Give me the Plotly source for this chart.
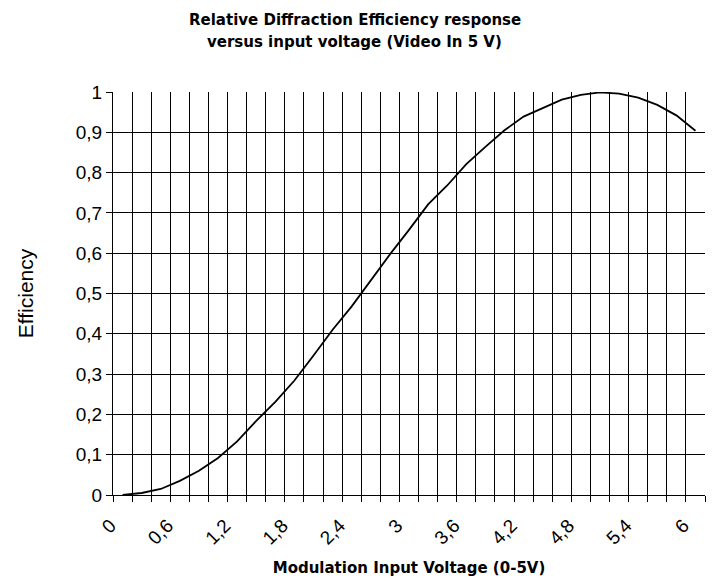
import plotly.graph_objects as go

# Data
voltages = [0.0, 0.2, 0.4, 0.6, 0.8, 1.0, 1.2, 1.4, 1.6, 1.8,
            2.0, 2.2, 2.4, 2.6, 2.8, 3.0, 3.2, 3.4, 3.6, 3.8,
            4.0, 4.2, 4.4, 4.6, 4.8, 5.0, 5.2, 5.4, 5.6, 5.8, 6.0]
efficiency = [0.000, 0.005, 0.015, 0.035, 0.060, 0.092, 0.133, 0.184, 0.231, 0.284,
              0.346, 0.410, 0.468, 0.533, 0.597, 0.658, 0.721, 0.768, 0.821, 0.864,
              0.905, 0.939, 0.961, 0.981, 0.993, 0.999, 0.996, 0.986, 0.968, 0.942, 0.904]
x_label_values = [0.0, 0.6, 1.2, 1.8, 2.4, 3.0, 3.6, 4.2, 4.8, 5.4, 6.0]
x_label_text = ["0", "0,6", "1,2", "1,8", "2,4", "3", "3,6", "4,2", "4,8", "5,4", "6"]
y_tick_values = [0, 0.1, 0.2, 0.3, 0.4, 0.5, 0.6, 0.7, 0.8, 0.9, 1.0]
title_lines = ["Relative Diffraction Efficiency response",
               "versus input voltage (Video In 5 V)"]

step = 0.2
half = step / 2
boundaries = [round(v - half, 3) for v in voltages] + [round(voltages[-1] + half, 3)]

fig = go.Figure()
fig.add_trace(go.Scatter(
    x=voltages, y=efficiency, mode="lines",
    line=dict(color="black", width=1.8),
    showlegend=False, hoverinfo="x+y",
))

font_family = "Liberation Sans, Arial, sans-serif"
bold_family = "DejaVu Sans, sans-serif"

fig.update_layout(
    width=712, height=581,
    margin=dict(l=113, r=7, t=92, b=86),
    paper_bgcolor="white", plot_bgcolor="white",
    separators=", ",
    font=dict(family=font_family, color="black"),
)

for text, ypos in zip(title_lines, [1.1787, 1.1248]):
    fig.add_annotation(
        text=f"<b>{text}</b>", xref="paper", yref="paper",
        x=0.408, y=ypos, xanchor="center", yanchor="middle",
        showarrow=False,
        font=dict(family=bold_family, size=15, color="black"),
    )

fig.update_xaxes(
    range=[boundaries[0], boundaries[-1]],
    tickmode="array", tickvals=x_label_values, ticktext=x_label_text,
    tickangle=-45, ticks="", showgrid=False,
    ticklabelstandoff=11, ticklabelshift=-12,
    tickfont=dict(family=font_family, size=19, color="black"),
    showline=True, linecolor="black", linewidth=1,
    zeroline=False,
    minor=dict(tickmode="array", tickvals=boundaries, ticks="outside",
               ticklen=6, tickcolor="black", tickwidth=1,
               showgrid=True, gridcolor="black", gridwidth=1),
    title=dict(text="<b>Modulation Input Voltage (0-5V)</b>",
               font=dict(family=bold_family, size=15, color="black"),
               standoff=14),
)

fig.update_yaxes(
    range=[0, 1.0],
    tickmode="array", tickvals=y_tick_values,
    ticks="outside", ticklen=6, tickcolor="black",
    tickfont=dict(family=font_family, size=19, color="black"),
    showgrid=True, gridcolor="black", gridwidth=1,
    showline=True, linecolor="black", linewidth=1,
    zeroline=False,
    title=dict(text="Efficiency",
               font=dict(family=font_family, size=21, color="black"),
               standoff=36),
)

fig.write_html("out.html",
               config={"displayModeBar": False},
               post_script="document.body.style.margin='0px';document.body.style.overflow='hidden';")
